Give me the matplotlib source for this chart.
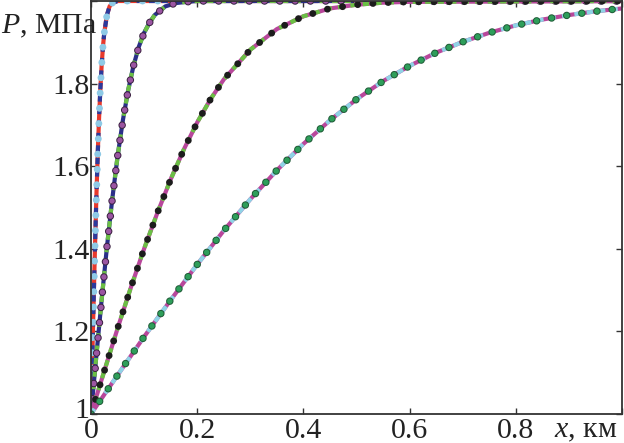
import matplotlib
matplotlib.use('Agg')
import matplotlib.pyplot as plt
import matplotlib.transforms as mtransforms

# ----------------------------------------------------------------------
# Pressure profiles P(x)
# ----------------------------------------------------------------------
x1 = [0, 0.0025, 0.005, 0.0075, 0.01, 0.0125, 0.015, 0.0175, 0.02, 0.0225,
      0.025, 0.03, 0.035, 0.04, 0.05, 0.06, 1.0]
p1 = [1.0, 1.14, 1.276, 1.404, 1.52, 1.623, 1.711, 1.784, 1.843, 1.889,
      1.923, 1.966, 1.987, 1.995, 2.0, 2.0, 2.0]

x2 = [0, 0.01, 0.02, 0.03, 0.04, 0.05, 0.06, 0.07, 0.08, 0.09, 0.10, 0.11,
      0.12, 0.14, 0.16, 0.18, 0.2, 0.25, 1.0]
p2 = [1.0, 1.14, 1.276, 1.404, 1.52, 1.623, 1.711, 1.784, 1.843, 1.889,
      1.923, 1.947, 1.966, 1.987, 1.995, 1.998, 2.0, 2.0, 2.0]

x3 = [0, 0.025, 0.05, 0.075, 0.1, 0.125, 0.15, 0.175, 0.2, 0.225, 0.25,
      0.3, 0.35, 0.4, 0.45, 0.5, 0.55, 0.6, 1.0]
p3 = [1.0, 1.104, 1.207, 1.306, 1.400, 1.487, 1.568, 1.641, 1.706, 1.762,
      1.810, 1.882, 1.932, 1.963, 1.982, 1.991, 1.996, 1.998, 2.0]

x4 = [0, 0.05, 0.1, 0.15, 0.2, 0.25, 0.3, 0.35, 0.4, 0.45, 0.5, 0.55, 0.6,
      0.65, 0.7, 0.75, 0.8, 0.85, 0.9, 0.95, 1.0]
p4 = [1.0, 1.094, 1.187, 1.276, 1.362, 1.444, 1.520, 1.590, 1.654, 1.711,
      1.762, 1.806, 1.843, 1.875, 1.901, 1.923, 1.941, 1.955, 1.966, 1.975,
      1.982]

x_ticks = [0, 0.2, 0.4, 0.6, 0.8, 1.0]
x_labels = ['0', '0.2', '0.4', '0.6', '0.8', '']
y_ticks = [1.0, 1.2, 1.4, 1.6, 1.8, 2.0]
y_labels = ['1', '1.2', '1.4', '1.6', '1.8', '']

# (solid colour, dashed colour, dot colour, dot edge colour)
styles = [
    ('#e8392c', '#2b3a9c', '#8ecae6', None),
    ('#2a2f88', '#6bbf45', '#9b55a2', '#3a2040'),
    ('#b8479b', '#6bbf45', '#1c1c1c', None),
    ('#b8479b', '#8fd3e6', '#2e9e5a', '#1f5a36'),
]

plt.rcParams['font.family'] = ['Liberation Serif', 'DejaVu Serif']
plt.rcParams['mathtext.fontset'] = 'custom'
plt.rcParams['mathtext.rm'] = 'Liberation Serif'
plt.rcParams['mathtext.it'] = 'Liberation Serif:italic'
plt.rcParams['lines.scale_dashes'] = False

fig = plt.figure(figsize=(6.24, 4.43), dpi=100)
ax = fig.add_axes([91 / 624, 29 / 443, 531 / 624, 413 / 443])

curves = [(x1, p1), (x2, p2), (x3, p3), (x4, p4)]
for (xs, ps), (c_solid, c_dash, c_dot, c_edge) in zip(curves, styles):
    ax.plot(xs, ps, '-', color=c_solid, lw=3.0, solid_capstyle='butt')
    ax.plot(xs, ps, color=c_dash, lw=3.0, dashes=(4.5, 4.5),
            dash_capstyle='butt')
    if c_edge is not None:
        ax.plot(xs, ps, color=c_edge, lw=5.4, dashes=(0.01, 11),
                dash_capstyle='round')
        ax.plot(xs, ps, color=c_dot, lw=4.0, dashes=(0.01, 11),
                dash_capstyle='round')
    else:
        ax.plot(xs, ps, color=c_dot, lw=5.0, dashes=(0.01, 11),
                dash_capstyle='round')

ax.set_xlim(0, 1.0)
ax.set_ylim(1.0, 2.0)
ax.set_xticks(x_ticks)
ax.set_xticklabels(x_labels)
ax.set_yticks(y_ticks)
ax.set_yticklabels(y_labels)
ax.tick_params(direction='in', length=4, width=1.0, labelsize=21.5,
               top=True, right=True, colors='#333333', labelcolor='#222222')
ax.tick_params(axis='y', pad=1)
ax.tick_params(axis='x', pad=3)
for sp in ax.spines.values():
    sp.set_linewidth(1.3)
    sp.set_color('#333333')

# nudge the "1" at the origin up a few pixels so it clears the "0" below
lab1 = ax.get_yticklabels()[0]
lab1.set_transform(lab1.get_transform() +
                   mtransforms.ScaledTranslation(0, 4 / 72, fig.dpi_scale_trans))

fig.text(0.002, 0.925, r'$P$, МПа', fontsize=21.5, ha='left',
         va='baseline', color='#222222')
fig.text(0.989, 0.012, r'$x$, км', fontsize=21.5, ha='right',
         va='baseline', color='#222222')

fig.savefig('out.png', dpi=100)
